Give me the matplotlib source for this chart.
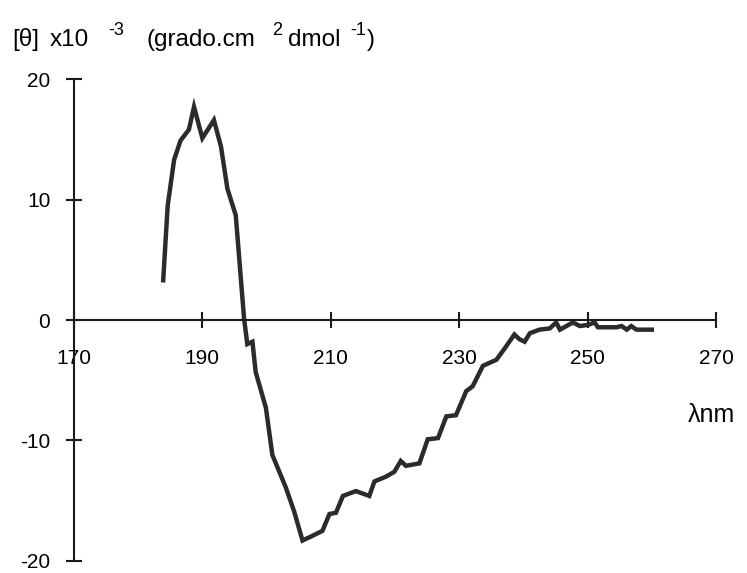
import matplotlib
matplotlib.use("Agg")
import matplotlib.pyplot as plt

plt.rcParams["font.family"] = ["Liberation Sans", "DejaVu Sans"]
plt.rcParams["axes.unicode_minus"] = False

# Circular dichroism spectrum
wavelength = [183.9, 184.6, 185.6, 186.6, 187.9, 188.7, 190.0, 191.8, 192.9,
              193.9, 195.2, 196.5, 197.0, 197.8, 198.3, 199.9, 200.9, 203.0,
              204.3, 205.6, 207.2, 208.7, 209.8, 210.8, 211.9, 213.9, 216.0,
              216.8, 218.6, 219.9, 220.9, 221.7, 223.8, 225.1, 226.7, 228.0,
              229.5, 231.1, 232.1, 233.7, 235.8, 237.3, 238.6, 239.4, 240.2,
              241.0, 242.5, 244.1, 245.1, 245.7, 247.7, 248.8, 250.1, 251.1,
              251.6, 254.5, 255.3, 256.1, 256.8, 257.6, 260.0]
theta = [3.3, 9.5, 13.3, 14.9, 15.8, 17.7, 15.1, 16.6, 14.4,
         10.9, 8.7, 0.1, -2.0, -1.8, -4.3, -7.3, -11.2, -13.9,
         -15.9, -18.3, -17.9, -17.5, -16.1, -16.0, -14.6, -14.2, -14.6,
         -13.4, -13.0, -12.6, -11.7, -12.1, -11.9, -9.9, -9.8, -8.0,
         -7.9, -5.9, -5.5, -3.8, -3.3, -2.2, -1.2, -1.6, -1.8,
         -1.1, -0.8, -0.7, -0.2, -0.8, -0.2, -0.5, -0.4, -0.2,
         -0.6, -0.6, -0.5, -0.8, -0.5, -0.8, -0.8]

x_ticks = [170, 190, 210, 230, 250, 270]
y_ticks = [-20, -10, 0, 10, 20]

W, H = 747, 573

fig = plt.figure(figsize=(W / 100, H / 100), dpi=100)
ax = fig.add_axes([0.099, 0.021, 0.8595, 0.841])

ax.plot(wavelength, theta, color="#2b2b2b", lw=3.2, solid_joinstyle="miter",
        clip_on=False)

ax.set_xlim(170, 270)
ax.set_ylim(-20, 20)

ax.spines["top"].set_visible(False)
ax.spines["right"].set_visible(False)
ax.spines["bottom"].set_position(("data", 0))
for side in ("left", "bottom"):
    ax.spines[side].set_linewidth(1.5)
    ax.spines[side].set_color("#1a1a1a")

ax.set_xticks(x_ticks)
ax.set_yticks(y_ticks)
ax.tick_params(axis="both", direction="inout", length=12, width=1.5,
               color="#1a1a1a", labelsize=15)
ax.tick_params(axis="x", pad=15)
ax.tick_params(axis="y", pad=11)

# y-axis title written in pieces, superscripts raised like the original
base = 1 - 46 / H
sup = 1 - 35 / H
fig.text(12 / W, base, "[θ]", fontsize=17.5, va="baseline")
fig.text(50 / W, base, "x10", fontsize=17.5, va="baseline")
fig.text(108 / W, sup, "-3", fontsize=13, va="baseline")
fig.text(147 / W, base, "(grado.cm", fontsize=17.5, va="baseline")
fig.text(272 / W, sup, "2", fontsize=13, va="baseline")
fig.text(288 / W, base, "dmol", fontsize=17.5, va="baseline")
fig.text(350 / W, sup, "-1", fontsize=13, va="baseline")
fig.text(367 / W, base, ")", fontsize=17.5, va="baseline")

fig.text(688 / W, 1 - 415 / H, "λnm", fontsize=18, va="center")

fig.savefig("out.png", dpi=100)
